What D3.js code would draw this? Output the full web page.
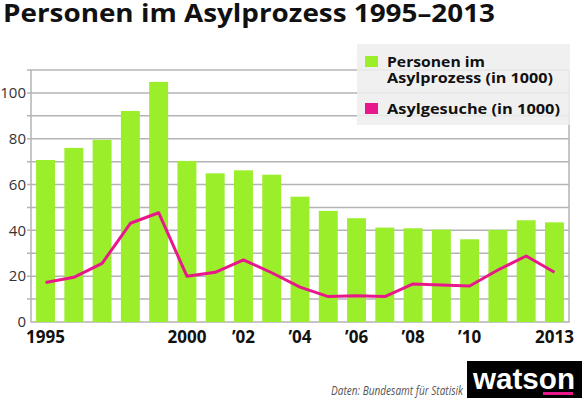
<!DOCTYPE html>
<html>
<head>
<meta charset="utf-8">
<script src="https://cdn.jsdelivr.net/npm/d3@7"></script>
<style>
  body { margin: 0; background: #fff; }
  svg { display: block; font-family: "Open Sans", sans-serif; }
</style>
</head>
<body>
<div id="container"></div>
<script>
/* DATA */
const years = [1995, 1996, 1997, 1998, 1999, 2000, 2001, 2002, 2003, 2004,
  2005, 2006, 2007, 2008, 2009, 2010, 2011, 2012, 2013];
// Personen im Asylprozess (in 1000)
const persons = [70.7, 76.0, 79.5, 92.1, 104.8, 70.3, 64.9, 66.2, 64.3, 54.7,
  48.5, 45.3, 41.2, 40.9, 40.3, 36.1, 40.2, 44.4, 43.5];
// Asylgesuche (in 1000)
const requests = [17.2, 19.5, 25.6, 43.1, 47.7, 20.0, 21.7, 27.1, 21.5, 15.2,
  11.1, 11.5, 11.1, 16.6, 16.2, 15.7, 22.7, 28.8, 21.7];
const yTicks = [0, 20, 40, 60, 80, 100];
const gridValues = [10, 20, 30, 40, 50, 60, 70, 80, 90, 100, 110];
const xTicks = [1995, 2000, 2002, 2004, 2006, 2008, 2010, 2013];
const xTickLabels = ["1995", "2000", "\u201902", "\u201904", "\u201906", "\u201908", "\u201910", "2013"];
const legendItems = [
  { lines: ["Personen im", "Asylprozess (in 1000)"], color: "#9aee2a" },
  { lines: ["Asylgesuche (in 1000)"], color: "#e8188c" }
];

/* CONSTANTS */
const width = 582,
  height = 398,
  margin = { top: 70, bottom: 76, left: 31, right: 13 };
const green = "#9aee2a",
  pink = "#e8188c",
  gridColor = "#b4b4b4";

const data = years.map((y, i) => ({ year: y, persons: persons[i], requests: requests[i] }));

/* SCALES */
const xScale = d3.scaleBand()
  .domain(years)
  .range([margin.left, width - margin.right])
  .paddingInner(0.33)
  .paddingOuter(0.18);

const yScale = d3.scaleLinear()
  .domain([0, 110])
  .range([height - margin.bottom, margin.top]);

/* SVG */
const svg = d3.select("#container")
  .append("svg")
  .attr("width", width)
  .attr("height", height);

// title
svg.append("text")
  .attr("x", 3)
  .attr("y", 21.5)
  .attr("font-size", 24.5)
  .attr("font-weight", 700)
  .attr("fill", "#111")
  .attr("textLength", 492)
  .attr("lengthAdjust", "spacingAndGlyphs")
  .text("Personen im Asylprozess 1995\u20132013");

// gridlines
svg.append("g")
  .selectAll("line")
  .data(gridValues)
  .join("line")
  .attr("x1", margin.left - 4)
  .attr("x2", width - margin.right)
  .attr("y1", d => yScale(d))
  .attr("y2", d => yScale(d))
  .attr("stroke", gridColor)
  .attr("stroke-width", 1.5);

// frame: left, right, bottom
const x0 = margin.left, x1 = width - margin.right;
svg.append("path")
  .attr("d", `M${x0},${yScale(110)}V${yScale(0)}H${x1}V${yScale(110)}`)
  .attr("fill", "none")
  .attr("stroke", gridColor)
  .attr("stroke-width", 1.5);

// bars
svg.append("g")
  .selectAll("rect")
  .data(data)
  .join("rect")
  .attr("x", d => xScale(d.year))
  .attr("width", xScale.bandwidth())
  .attr("y", d => yScale(d.persons))
  .attr("height", d => yScale(0) - yScale(d.persons))
  .attr("fill", green);

// line
const lineGen = d3.line()
  .x(d => xScale(d.year) + xScale.bandwidth() / 2)
  .y(d => yScale(d.requests));

svg.append("path")
  .datum(data)
  .attr("d", lineGen)
  .attr("fill", "none")
  .attr("stroke", pink)
  .attr("stroke-width", 3)
  .attr("stroke-linejoin", "round");

// y axis labels
const yAxis = d3.axisLeft(yScale)
  .tickValues(yTicks)
  .tickSize(0)
  .tickPadding(0);
const yAxisGroup = svg.append("g")
  .attr("transform", `translate(${margin.left - 5}, 0)`)
  .call(yAxis);
yAxisGroup.select(".domain").remove();
yAxisGroup.selectAll("text")
  .attr("font-size", 15)
  .attr("font-family", "Open Sans, sans-serif")
  .attr("fill", "#333");

// x axis labels
const xAxis = d3.axisBottom(xScale)
  .tickValues(xTicks)
  .tickFormat(d => xTickLabels[xTicks.indexOf(d)])
  .tickSize(0)
  .tickPadding(0);
const xAxisGroup = svg.append("g")
  .attr("transform", `translate(0, ${yScale(0)})`)
  .call(xAxis);
xAxisGroup.select(".domain").remove();
xAxisGroup.selectAll("text")
  .attr("dy", null)
  .attr("y", 21)
  .attr("font-size", 17)
  .attr("font-weight", 700)
  .attr("font-family", "Open Sans, sans-serif")
  .attr("fill", "#111");

// legend
const legend = svg.append("g");
legend.append("rect")
  .attr("x", 357)
  .attr("y", 44)
  .attr("width", 213)
  .attr("height", 81)
  .attr("fill", "#eeeeee")
  .attr("opacity", 0.88);

const legendY = [67, 114];
const legendWidths = [[98, 166], [173]];
legendItems.forEach((item, i) => {
  legend.append("rect")
    .attr("x", 365)
    .attr("y", legendY[i] - 11)
    .attr("width", 13)
    .attr("height", 11)
    .attr("fill", item.color);
  const label = legend.append("text")
    .attr("y", legendY[i])
    .attr("font-size", 14.5)
    .attr("font-weight", 700)
    .attr("fill", "#111");
  item.lines.forEach((line, j) => {
    label.append("tspan")
      .attr("x", 387)
      .attr("y", legendY[i] + j * 15.5)
      .attr("textLength", legendWidths[i][j])
      .attr("lengthAdjust", "spacingAndGlyphs")
      .text(line);
  });
});

// source
svg.append("text")
  .attr("x", 331)
  .attr("y", 395)
  .attr("font-size", 12)
  .attr("font-style", "italic")
  .attr("fill", "#555")
  .attr("textLength", 132)
  .attr("lengthAdjust", "spacingAndGlyphs")
  .text("Daten: Bundesamt für Statisik");

// logo
svg.append("rect")
  .attr("x", 467)
  .attr("y", 361)
  .attr("width", 115)
  .attr("height", 37)
  .attr("fill", "#000");
svg.append("text")
  .attr("x", 473)
  .attr("y", 389)
  .attr("font-size", 29)
  .attr("font-weight", 700)
  .attr("font-family", "Liberation Sans, Arial, sans-serif")
  .attr("fill", "#fff")
  .attr("textLength", 102)
  .attr("lengthAdjust", "spacingAndGlyphs")
  .text("watson");
svg.append("rect")
  .attr("x", 543)
  .attr("y", 392)
  .attr("width", 30)
  .attr("height", 3)
  .attr("fill", pink);
</script>
</body>
</html>
